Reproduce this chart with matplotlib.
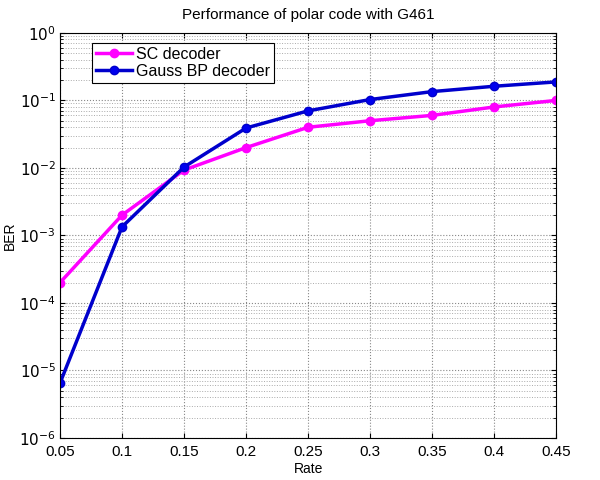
import matplotlib
matplotlib.use("Agg")
import matplotlib.pyplot as plt
from matplotlib.ticker import FixedLocator, NullFormatter

plt.rcParams['font.family'] = ['Liberation Sans', 'DejaVu Sans']

rate = [0.05, 0.1, 0.15, 0.2, 0.25, 0.3, 0.35, 0.4, 0.45]
ber_sc = [2e-4, 2e-3, 9.3e-3, 2e-2, 4e-2, 5e-2, 6e-2, 8e-2, 1e-1]
ber_bp = [6.5e-6, 1.34e-3, 1.03e-2, 3.9e-2, 7e-2, 1.03e-1, 1.35e-1, 1.62e-1, 1.88e-1]
rate_labels = ['0.05', '0.1', '0.15', '0.2', '0.25', '0.3', '0.35', '0.4', '0.45']
decades = [-6, -5, -4, -3, -2, -1, 0]

fig = plt.figure(figsize=(6, 4.8), dpi=100)
ax = fig.add_axes([0.1, 0.0875, 0.827, 0.844])

ax.semilogy(rate, ber_sc, color='#ff00ff', lw=2.5, marker='o', ms=6,
            label='SC decoder')
ax.semilogy(rate, ber_bp, color='#0000cc', lw=2.5, marker='o', ms=6,
            mfc='#0000ee', label='Gauss BP decoder')

ax.set_xlim(0.05, 0.45)
ax.set_ylim(1e-6, 1)
ax.set_xticks(rate)
ax.set_xticklabels(rate_labels)
ax.set_yticks([10.0 ** d for d in decades])
ax.set_yticklabels([r'$10^{%d}$' % d for d in decades])
minor = [m * 10.0 ** d for d in decades[:-1] for m in range(2, 10)]
ax.yaxis.set_minor_locator(FixedLocator(minor))
ax.yaxis.set_minor_formatter(NullFormatter())

ax.grid(True, which='major', linestyle=':', color='#888888', lw=0.8)
ax.grid(True, which='minor', axis='y', linestyle=':', color='#aaaaaa', lw=0.7)
ax.tick_params(direction='in', which='both', labelsize=11, top=True, right=True)
ax.tick_params(axis='x', pad=5)
ax.tick_params(axis='y', pad=3)
ax.tick_params(which='minor', length=2)

ax.set_title('Performance of polar code with G461', fontsize=11, pad=10)
ax.set_xlabel('Rate', fontsize=10, labelpad=2)
ax.set_ylabel('BER', fontsize=10, labelpad=2)

leg = ax.legend(loc='upper left', bbox_to_anchor=(0.064, 0.975), fontsize=11.5,
                fancybox=False, edgecolor='black', handlelength=2.3,
                borderpad=0.25, labelspacing=0.1, handletextpad=0.2,
                borderaxespad=0.0, framealpha=1)
leg.get_frame().set_linewidth(0.8)

fig.savefig('out.png', dpi=100)
